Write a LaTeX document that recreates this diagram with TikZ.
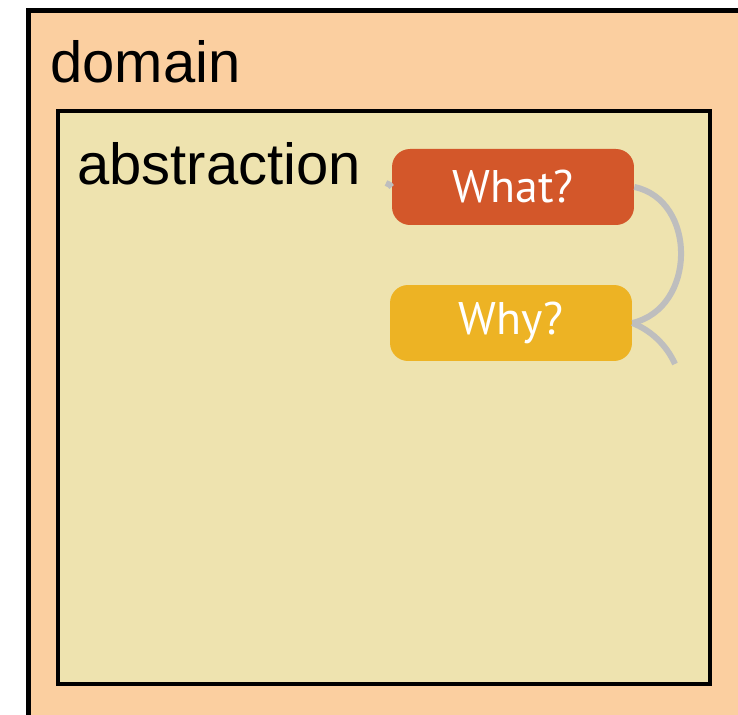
\documentclass[tikz,border=0pt]{standalone}
\usepackage{fontspec}
\setmainfont{Liberation Sans}
\newfontfamily\qfont{PT Sans}
\usepackage{xcolor}
\usepackage{tikz}
\usetikzlibrary{positioning}
\definecolor{domainfill}{HTML}{FBCFA0}
\definecolor{abstrfill}{HTML}{EEE3AF}
\definecolor{whatfill}{HTML}{D3572A}
\definecolor{whyfill}{HTML}{EDB324}
\definecolor{linkgray}{HTML}{BEBEBE}
\tikzset{
frame/.style = {draw=black, line width=#1},
frame/.default = 0.11cm,
title/.style = {anchor=base west, inner sep=0pt, font=\fontsize{33}{36}\selectfont}
}
\tikzset{
question/.style = {rectangle, rounded corners=0.36cm, fill=#1, text=white,
                   minimum width=4.84cm, minimum height=1.52cm, inner sep=0pt,
                   font=\qfont\fontsize{26}{28}\selectfont}
}
\tikzset{
link/.style = {draw=linkgray, line width=0.12cm, line cap=butt}
}

\begin{document}
\begin{tikzpicture}[x=0.02cm, y=-0.02cm]
  \clip (0,0) rectangle (738,715);
  % Boxes
    \draw[frame, fill=domainfill] (28.5,10.5) rectangle (760,740);
    \draw[frame=0.09cm, fill=abstrfill] (58,111) rectangle (710,684);

  % Node
    \node[title] (domainLabel) at (50,83) {domain};
    \node[title] (abstrLabel) at (77,185) {abstraction};
    \node[question=whatfill] (whatBox) at (513,187) {What?};
    \node[question=whyfill] (whyBox) at (511,323) {Why?};
    \coordinate (inPoint) at (386,183);
    \coordinate (outPoint) at (675,364);

  % Lines
    \draw[link] (inPoint) .. controls (389,184) and (391,185.5) .. (whatBox.west);
    \draw[link] (whatBox.east) .. controls (697,200) and (697,308) .. (whyBox.east);
    \draw[link] (whyBox.east) .. controls (650,330) and (666,344) .. (outPoint);
\end{tikzpicture}
\end{document}
